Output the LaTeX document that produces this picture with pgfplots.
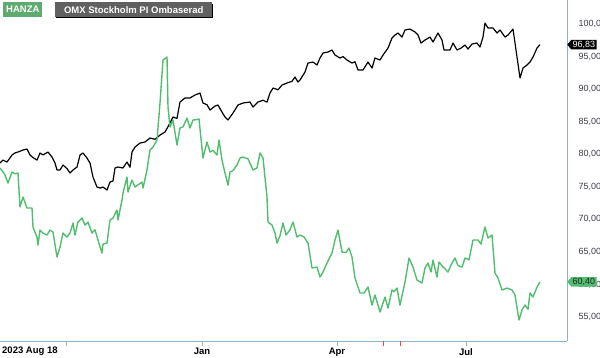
\documentclass[border=0pt]{standalone}
\usepackage{pgfplots}
\pgfplotsset{compat=1.18}
\usepackage{fontspec}
\setmainfont{Liberation Sans}
\usetikzlibrary{shapes.symbols}
\definecolor{hgreen}{RGB}{80,190,110}
\definecolor{hbox}{RGB}{95,170,110}
\definecolor{axcol}{RGB}{140,180,200}
\definecolor{labcol}{RGB}{60,60,75}
\definecolor{omxbox}{RGB}{96,96,96}
\begin{document}
\begin{tikzpicture}
\begin{axis}[
  at={(0pt,0pt)}, anchor=south west,
  scale only axis, width=567pt, height=341pt,
  xmin=0, xmax=567, ymin=51.32, ymax=103.69,
  axis x line*=bottom, axis y line*=right,
  axis line style={draw=axcol, line width=0.9pt},
  xtick={66,202,337,466}, xticklabels={,Jan,Apr,Jul},
  tick align=outside, major tick length=5pt,
  xtick style={draw=axcol, line width=1pt},
  extra x ticks={383,400}, extra x tick labels={},
  extra x tick style={xtick style={draw=red!75!white, line width=1pt}, tick align=outside, major tick length=5pt},
  xticklabel style={font=\fontsize{9.5}{11}\selectfont\bfseries, text=black, inner sep=0pt, yshift=-2pt},
  ytick={55,60,...,100},
  ytick style={draw=none},
  yticklabel style={anchor=west, inner sep=0pt, xshift=6.5pt, font=\fontsize{9}{11}\selectfont, text=labcol},
  yticklabel={\pgfmathprintnumber[fixed,fixed zerofill,precision=2,use comma]{\tick}},
  /pgf/number format/assume math mode=true,
  clip=false,
]
\addplot[black, line width=1.2pt, line join=round] coordinates {
(0,78.65)(3,79.11)(7,78.8)(12,79.88)(15,80.2)(18,80.34)(23,80.65)(27,80.80)(30,79.88)(33,79.5)(37,79.11)(40,80.19)(43,79.9)(48,80.34)(52,79.57)(55,78.65)(57,77.58)(60,77.58)(63,78.35)(67,77.8)(70,77.12)(73,77.58)(77,78.04)(80,79.88)(83,80.19)(87,79.42)(90,78.65)(93,76.50)(97,74.97)(100,74.81)(103,74.97)(107,74.51)(110,75.73)(113,75.9)(115,77.89)(118,78.04)(123,77.89)(127,78.81)(130,78.0)(132,80.34)(135,81.11)(140,81.72)(145,81.88)(150,82.49)(155,82.3)(160,82.95)(165,83.41)(170,84.80)(173,85.72)(177,85.5)(180,88.02)(185,88.64)(190,88.64)(195,89.10)(200,89.40)(203,87.87)(207,87.6)(210,86.79)(215,87.4)(218,87.56)(222,86.48)(225,85.72)(228,85.26)(233,86.33)(238,87.56)(243,87.87)(250,88.02)(253,87.25)(258,88.02)(263,88.3)(267,88.0)(270,89.40)(273,90.17)(278,89.9)(282,90.63)(287,90.94)(292,91.2)(295,91.86)(298,91.09)(300,91.40)(305,92.63)(308,94.01)(313,94.16)(317,93.70)(320,94.78)(323,95.55)(328,95.70)(332,96.01)(335,95.24)(340,94.78)(343,95.0)(347,94.47)(352,94.01)(355,94.2)(358,92.94)(363,92.94)(368,94.16)(372,93.24)(375,94.78)(380,94.47)(383,95.24)(388,96.31)(392,97.85)(395,98.31)(398,98.62)(402,98.00)(405,99.08)(410,99.23)(415,98.77)(418,98.31)(421,97.08)(425,97.54)(430,98.00)(433,97.24)(438,98.62)(442,97.54)(444,96.01)(450,96.01)(453,97.08)(457,96.01)(461,96.3)(465,96.77)(468,96.16)(472,96.93)(477,97.08)(480,96.47)(483,98.00)(485,100.15)(488,99.39)(493,99.39)(497,98.62)(500,99.08)(505,98.00)(508,98.31)(513,99.23)(517,94.93)(520,91.71)(523,93.24)(527,93.70)(530,94.16)(533,94.93)(537,96.31)(540,96.83)
};
\addplot[hgreen, line width=1.4pt, line join=round] coordinates {
(0,77.88)(3,77.3)(5,76.81)(8,75.58)(12,77.27)(15,77.0)(18,77.12)(20,71.90)(23,73.43)(27,71.74)(32,71.74)(33,68.82)(37,67.29)(38,66.06)(40,68.36)(43,67.90)(47,67.59)(50,68.36)(53,68.06)(57,64.22)(60,65.75)(63,67.90)(67,67.29)(70,67.90)(73,69.44)(75,67.59)(78,69.59)(82,70.21)(85,69.13)(88,69.59)(92,67.90)(95,68.4)(98,66.83)(102,64.83)(103,66.2)(107,66.37)(110,69.90)(113,70.2)(117,71.43)(118,69.90)(122,72.97)(123,74.05)(127,76.50)(128,74.20)(132,76.04)(135,74.97)(138,75.3)(142,75.73)(143,74.81)(147,77.58)(150,80.65)(153,81.11)(157,82.18)(160,87.87)(163,94.47)(167,94.93)(168,87.25)(170,84.18)(173,85.26)(177,81.42)(180,84.03)(183,84.2)(187,85.56)(190,84.03)(193,85.26)(196,85.3)(199,85.41)(203,79.42)(207,81.88)(210,80.34)(213,80.6)(217,79.88)(219,82.18)(222,79.11)(225,77.12)(228,75.27)(230,77.27)(233,77.5)(237,78.35)(240,79.42)(243,79.57)(248,79.3)(253,77.58)(257,77.9)(260,80.19)(263,79.42)(267,73.43)(268,69.59)(272,69.13)(275,67.90)(277,66.37)(280,67.5)(283,69.44)(286,67.59)(290,68.4)(293,69.59)(297,67.29)(300,67.59)(304,67.3)(308,66.37)(312,62.53)(317,62.68)(320,61.14)(323,61.91)(327,63.29)(332,64.83)(335,66.83)(338,68.36)(342,64.98)(346,64.9)(349,65.60)(352,64.22)(355,60.99)(360,58.69)(364,58.69)(368,59.61)(372,56.84)(375,58.38)(380,55.77)(385,58.07)(388,56.38)(392,59.15)(394,58.9)(397,59.45)(400,56.84)(405,60.38)(409,64.06)(413,62.68)(417,60.68)(422,60.22)(425,62.53)(428,63.29)(431,61.91)(433,63.75)(437,61.14)(439,63.45)(443,62.7)(448,61.91)(452,63.29)(455,64.06)(458,62.9)(462,62.68)(465,64.06)(469,63.8)(473,66.83)(478,66.83)(481,66.2)(485,68.82)(488,67.13)(492,67.59)(495,61.76)(498,60.99)(502,59.15)(507,59.45)(512,59.15)(515,58.38)(519,54.54)(522,56.08)(525,56.84)(528,56.2)(530,58.69)(533,58.07)(537,59.61)(540,60.40)
};
% value tags
\node[signal, signal to=west, signal pointer angle=100, fill=black, text=white, inner sep=1pt, inner xsep=1.5pt, anchor=west, font=\fontsize{9}{10}\selectfont]
  at (axis cs:567,96.83) {96,83};
\node[signal, signal to=west, signal pointer angle=100, fill=hgreen, text=black!85, inner sep=1pt, inner xsep=1.5pt, anchor=west, font=\fontsize{9}{10}\selectfont]
  at (axis cs:567,60.40) {60,40};
% legend boxes
\node[fill=hbox, text=white, anchor=north west, inner sep=2pt, inner xsep=3pt, minimum height=15pt, font=\fontsize{9.5}{10}\selectfont\bfseries]
  at ([xshift=3pt,yshift=-2pt]rel axis cs:0,1) {HANZA};
\fill[black] ([xshift=56pt,yshift=-4pt]rel axis cs:0,1) rectangle ([xshift=213pt,yshift=-18pt]rel axis cs:0,1);
\node[fill=omxbox, text=white, anchor=north west, inner sep=2pt, minimum height=15pt, minimum width=157pt, font=\fontsize{9.5}{10}\selectfont\bfseries]
  at ([xshift=55pt,yshift=-2pt]rel axis cs:0,1) {OMX Stockholm PI Ombaserad};
% first date label
\node[anchor=north west, inner sep=0pt, font=\fontsize{9.5}{11}\selectfont\bfseries]
  at ([xshift=2pt,yshift=-6pt]rel axis cs:0,0) {2023 Aug 18};
\end{axis}
\pgfresetboundingbox
\path (0pt,-16pt) rectangle (600pt,341pt);
\end{tikzpicture}
\end{document}
